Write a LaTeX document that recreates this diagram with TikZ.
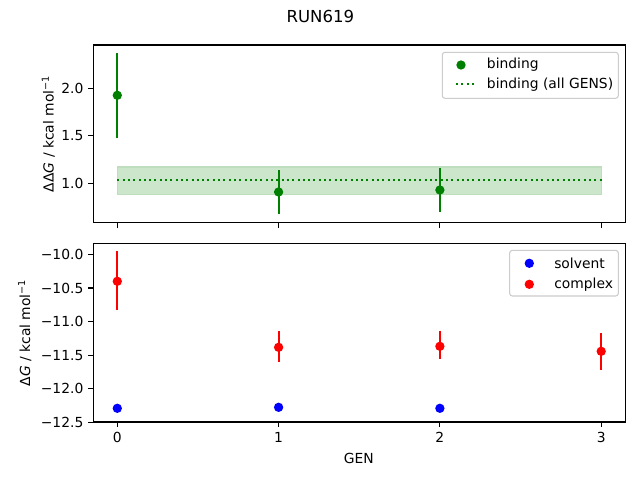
\documentclass[tikz,border=0pt]{standalone}
\usepackage{fontspec}
\setmainfont{DejaVu Sans}
\definecolor{mgreen}{RGB}{0,128,0}
\definecolor{mband}{RGB}{204,230,204}
\definecolor{mbandedge}{RGB}{190,222,190}
\definecolor{mblue}{RGB}{0,0,255}
\definecolor{mred}{RGB}{255,0,0}
\definecolor{legedge}{RGB}{204,204,204}
\begin{document}
\begin{tikzpicture}[x=0.75pt,y=-0.75pt,
  spine/.style={line width=0.8pt},
  tickmark/.style={line width=0.8pt},
  ticklbl/.style={font=\fontsize{10.4}{12}\selectfont, inner sep=0pt},
  ebar/.style={line width=1.5pt},
  mk/.style={circle, inner sep=0pt, minimum size=7pt, fill=#1},
  legbox/.style={draw=legedge, fill=white, fill opacity=0.8, draw opacity=1, rounded corners=2pt, line width=0.8pt},
  legtxt/.style={font=\fontsize{10.4}{12}\selectfont, inner sep=0pt, anchor=west},
  dotline/.style={mgreen, line width=1.5pt, dash pattern=on 1.5pt off 2.475pt}
]
\useasboundingbox (0,0) rectangle (640,480);
\fill[white] (0,0) rectangle (640,480);

% title
\node[font=\fontsize{12.4}{14}\selectfont] (title) at (320.3,16.7) {RUN619};

% ================= TOP PANEL =================
\fill[mband] (117.3,167) rectangle (601.7,194.7);
\draw[mbandedge, line width=0.8pt] (117.3,167) rectangle (601.7,194.7);
\coordinate (dl0) at (117.3,179.7);
\coordinate (dl1) at (601.7,179.7);
\draw[dotline] (dl0) -- (dl1);

% error bars top
\draw[ebar, mgreen] (117.3,53.3) -- (117.3,137.7);
\draw[ebar, mgreen] (278.6,170) -- (278.6,214.3);
\draw[ebar, mgreen] (439.9,168) -- (439.9,211.7);
\node[mk=mgreen] (b0) at (117.3,95.3) {};
\node[mk=mgreen] (b1) at (278.6,192) {};
\node[mk=mgreen] (b2) at (439.9,190) {};

% spines top
\draw[spine] (93.3,45) rectangle (625.3,222.7);
% x ticks top
\foreach \x in {117.3,278.6,439.9,601.2} \draw[tickmark] (\x,222.7) -- (\x,227.6);
% y ticks top
\foreach \y/\l/\n in {88.7/2.0/ta,135.7/1.5/tb,183.3/1.0/tc} {
  \draw[tickmark] (93.3,\y) -- (88.4,\y);
  \node[ticklbl, anchor=east] (\n) at (83.6,\y) {\l};
}
\node[font=\fontsize{10.4}{12}\selectfont, rotate=90, inner sep=0pt] (ylt) at (48.3,133.8) {ΔΔ\textit{G} / kcal mol\textsuperscript{−1}};

% legend top
\draw[legbox] (442.3,52.3) rectangle (618.3,98.3);
\node[mk=mgreen] (lb) at (461,65) {};
\node[legtxt] (lbt) at (486.7,65) {binding};
\coordinate (ld0) at (456,84.3);
\coordinate (ld1) at (474,84.3);
\draw[dotline] (ld0) -- (ld1);
\node[legtxt] (ldt) at (486.7,84.3) {binding (all GENS)};

% ================= BOTTOM PANEL =================
% complex error bars
\draw[ebar, mred] (117.3,251) -- (117.3,310);
\draw[ebar, mred] (278.6,331) -- (278.6,361.7);
\draw[ebar, mred] (439.9,330.7) -- (439.9,359.3);
\draw[ebar, mred] (601.2,333.3) -- (601.2,370);
% solvent error bars
\draw[ebar, mblue] (117.3,405.3) -- (117.3,411.3);
\draw[ebar, mblue] (278.6,404.8) -- (278.6,409.8);
\draw[ebar, mblue] (439.9,405.8) -- (439.9,410.8);
\node[mk=mblue] (s0) at (117.3,408.3) {};
\node[mk=mblue] (s1) at (278.6,407.3) {};
\node[mk=mblue] (s2) at (439.9,408.3) {};
\node[mk=mred] (c0) at (117.3,281.3) {};
\node[mk=mred] (c1) at (278.6,347.3) {};
\node[mk=mred] (c2) at (439.9,346.3) {};
\node[mk=mred] (c3) at (601.2,351.3) {};

% spines bottom
\draw[spine] (93.3,243.3) rectangle (625.3,422);
\foreach \x/\l/\n in {117.3/0/xa,278.6/1/xb,439.9/2/xc,601.2/3/xd} {
  \draw[tickmark] (\x,422) -- (\x,426.9);
  \node[ticklbl, anchor=north] (\n) at (\x,431.7) {\l};
}
\foreach \y/\l/\n in {254.3/−10.0/ya,288/−10.5/yb,321.6/−11.0/yc,355.2/−11.5/yd,388.8/−12.0/ye,422.3/−12.5/yf} {
  \draw[tickmark] (93.3,\y) -- (88.4,\y);
  \node[ticklbl, anchor=east] (\n) at (83.6,\y) {\l};
}
\node[font=\fontsize{10.4}{12}\selectfont, rotate=90, inner sep=0pt] (ylb) at (24.7,332.7) {Δ\textit{G} / kcal mol\textsuperscript{−1}};
\node[font=\fontsize{10.4}{12}\selectfont, inner sep=0pt] (xl) at (358.8,458) {GEN};

% legend bottom
\draw[legbox] (509.7,250.3) rectangle (618.3,296);
\node[mk=mblue] (ls) at (529.3,263.3) {};
\node[legtxt] (lst) at (554,263.3) {solvent};
\node[mk=mred] (lc) at (529.3,284.3) {};
\node[legtxt] (lct) at (554,284.3) {complex};
\end{tikzpicture}
\end{document}
